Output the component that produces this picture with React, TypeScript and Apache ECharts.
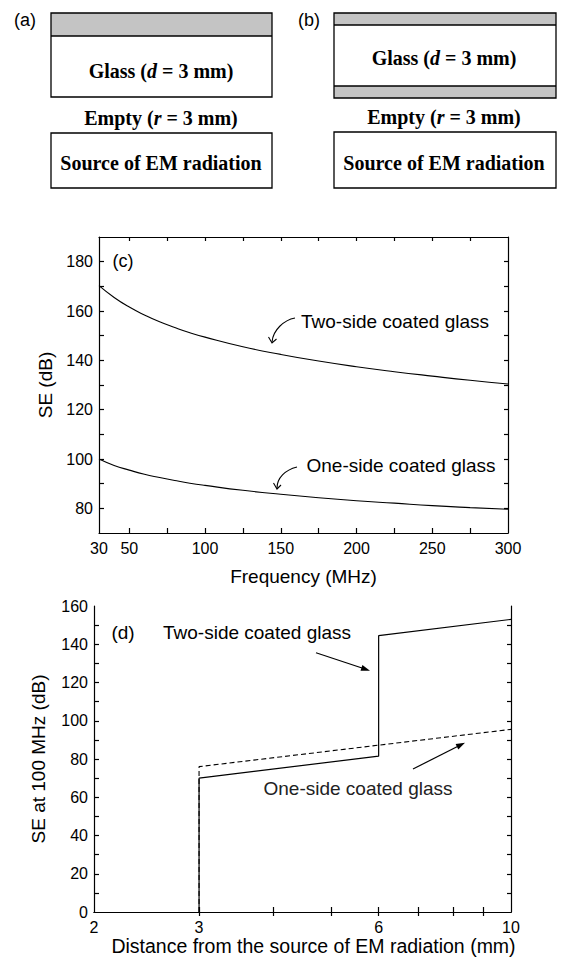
import React, { useEffect, useRef } from "react";
import * as echarts from "echarts";

// ---- (c) SE vs frequency ----
const freqMHz = [30, 40, 50, 60, 70, 80, 90, 100, 125, 150, 175, 200, 225, 250, 275, 300];
const seTwoSide = [170.3, 165.5, 161.6, 158.4, 155.6, 153.3, 151.2, 149.4, 145.5, 142.4, 139.7, 137.4, 135.4, 133.6, 131.9, 130.4];
const seOneSide = [100, 97.4, 95.5, 93.8, 92.5, 91.3, 90.2, 89.3, 87.3, 85.7, 84.3, 83.1, 82.1, 81.1, 80.3, 79.6];
const freqLabels = [30, 50, 100, 150, 200, 250, 300];
const freqTicks = [50, 75, 100, 125, 150, 175, 200, 225, 250, 275];
const seCLabels = [80, 100, 120, 140, 160, 180];
const seCTicks = [80, 90, 100, 110, 120, 130, 140, 150, 160, 170, 180];

// ---- (d) SE at 100 MHz vs distance ----
const distTwoSide = [3, 3, 6, 6, 10];
const se100TwoSide = [0, 70, 81.5, 144.5, 153];
const distOneSide = [3, 3, 10];
const se100OneSide = [0, 76, 95.5];
const distLabels = [2, 3, 6, 10];
const distTicks = [3, 4, 5, 6, 7, 8, 9];
const seDTicks = [10, 20, 30, 40, 50, 60, 70, 80, 90, 100, 110, 120, 130, 140, 150];

const SANS = "'Liberation Sans', Arial, sans-serif";
const SERIF = "'Liberation Serif', 'Times New Roman', serif";
const BLACK = "#000";
const AX = { color: BLACK, width: 1.2 };

function frameAxes(grid: number, xType: string, xMin: number, xMax: number, xTicks: number[], yMin: number, yMax: number, yTicks: number[]) {
  const xTop: any = {
    gridIndex: grid, type: xType, min: xMin, max: xMax, position: "top",
    axisLine: { show: true, lineStyle: AX },
    axisTick: { show: true, inside: true, length: 4, customValues: xTicks, lineStyle: AX },
    axisLabel: { show: false }, splitLine: { show: false },
  };
  if (xType === "log") xTop.logBase = 10;
  const yRight: any = {
    gridIndex: grid, type: "value", min: yMin, max: yMax, position: "right",
    axisLine: { show: true, lineStyle: AX },
    axisTick: { show: true, inside: true, length: 4, customValues: yTicks, lineStyle: AX },
    axisLabel: { show: false }, splitLine: { show: false },
  };
  return { xTop, yRight };
}

function buildOption(): any {
  const cFrame = frameAxes(0, "value", 30, 300, freqTicks, 70, 190, seCTicks);
  const dFrame = frameAxes(1, "log", 2, 10, distTicks, 0, 160, seDTicks);
  const labelStyle = { color: BLACK, fontSize: 16, fontFamily: SANS };
  const nameStyle = { color: BLACK, fontSize: 19, fontFamily: SANS };

  const gray = "#c4c4c4";
  const boxStroke = { stroke: BLACK, lineWidth: 1.3 };
  const richSerif = {
    b: { fontFamily: SERIF, fontWeight: "bold", fontSize: 20, fill: BLACK },
    i: { fontFamily: SERIF, fontWeight: "bold", fontStyle: "italic", fontSize: 20, fill: BLACK },
  };
  const serifText = (x: number, y: number, text: string) => ({
    type: "text", x, y,
    style: { text, rich: richSerif, align: "center", verticalAlign: "middle" },
  });
  const sansText = (x: number, y: number, text: string, size: number, fill = BLACK) => ({
    type: "text", x, y,
    style: { text, fontFamily: SANS, fontSize: size, fill, align: "center", verticalAlign: "middle" },
  });
  const lineSt = { stroke: BLACK, lineWidth: 1.1, fill: null };

  const graphic: any[] = [
    // (a)
    sansText(25, 20, "(a)", 18),
    { type: "rect", shape: { x: 51, y: 13, width: 221, height: 23 }, style: { fill: gray, stroke: null } },
    { type: "rect", shape: { x: 51, y: 13, width: 221, height: 84 }, style: { fill: null, ...boxStroke } },
    { type: "line", shape: { x1: 51, y1: 36, x2: 272, y2: 36 }, style: boxStroke },
    serifText(161, 71, "{b|Glass (}{i|d}{b| = 3 mm)}"),
    serifText(161, 118, "{b|Empty (}{i|r}{b| = 3 mm)}"),
    { type: "rect", shape: { x: 51, y: 133, width: 221, height: 55 }, style: { fill: null, ...boxStroke } },
    serifText(161, 163, "{b|Source of EM radiation}"),
    // (b)
    sansText(309, 20, "(b)", 18),
    { type: "rect", shape: { x: 334, y: 13, width: 222, height: 12 }, style: { fill: gray, stroke: null } },
    { type: "rect", shape: { x: 334, y: 86, width: 222, height: 12 }, style: { fill: gray, stroke: null } },
    { type: "rect", shape: { x: 334, y: 13, width: 222, height: 85 }, style: { fill: null, ...boxStroke } },
    { type: "line", shape: { x1: 334, y1: 25, x2: 556, y2: 25 }, style: boxStroke },
    { type: "line", shape: { x1: 334, y1: 86, x2: 556, y2: 86 }, style: boxStroke },
    serifText(444, 58, "{b|Glass (}{i|d}{b| = 3 mm)}"),
    serifText(444, 117, "{b|Empty (}{i|r}{b| = 3 mm)}"),
    { type: "rect", shape: { x: 334, y: 132, width: 222, height: 56 }, style: { fill: null, ...boxStroke } },
    serifText(444, 163, "{b|Source of EM radiation}"),
    // (c) annotations
    sansText(123, 261, "(c)", 18),
    sansText(395, 321, "Two-side coated glass", 19),
    { type: "bezierCurve", shape: { x1: 295, y1: 318, cpx1: 284, cpy1: 320, cpx2: 273, cpy2: 330, x2: 272, y2: 342 }, style: lineSt },
    { type: "polyline", shape: { points: [[268.5, 337], [272, 343], [276.5, 339]] }, style: lineSt },
    sansText(401, 465, "One-side coated glass", 19),
    { type: "bezierCurve", shape: { x1: 297, y1: 467, cpx1: 285, cpy1: 470, cpx2: 277, cpy2: 478, x2: 277, y2: 488 }, style: lineSt },
    { type: "polyline", shape: { points: [[273.5, 483], [277, 489], [281, 485]] }, style: lineSt },
    // (d) annotations
    sansText(123, 632, "(d)", 19),
    sansText(257, 632, "Two-side coated glass", 19),
    { type: "line", shape: { x1: 316, y1: 652.7, x2: 362, y2: 668 }, style: { stroke: BLACK, lineWidth: 1.2 } },
    { type: "polygon", shape: { points: [[370, 670.7], [360.5, 670.7], [362.4, 665]] }, style: { fill: BLACK } },
    sansText(358, 788, "One-side coated glass", 19, "#222"),
    { type: "line", shape: { x1: 413, y1: 769, x2: 457.5, y2: 746.5 }, style: { stroke: BLACK, lineWidth: 1.2 } },
    { type: "polygon", shape: { points: [[465, 742.7], [458.3, 749.5], [455.6, 744.1]] }, style: { fill: BLACK } },
  ];

  return {
    animation: false,
    backgroundColor: "#fff",
    grid: [
      { left: 99, top: 237, width: 409, height: 296 },
      { left: 94, top: 606, width: 417, height: 306 },
    ],
    xAxis: [
      {
        gridIndex: 0, type: "value", min: 30, max: 300, position: "bottom",
        axisLine: { show: true, lineStyle: AX },
        axisTick: { show: true, inside: true, length: 5, customValues: freqTicks, lineStyle: AX },
        axisLabel: { ...labelStyle, margin: 7, customValues: freqLabels },
        splitLine: { show: false },
        name: "Frequency (MHz)", nameLocation: "middle", nameGap: 34, nameTextStyle: nameStyle,
      },
      cFrame.xTop,
      {
        gridIndex: 1, type: "log", logBase: 10, min: 2, max: 10, position: "bottom",
        axisLine: { show: true, lineStyle: AX },
        axisTick: { show: true, inside: true, length: 5, customValues: distTicks, lineStyle: AX },
        axisLabel: { ...labelStyle, margin: 7, customValues: distLabels, formatter: (v: number) => String(Math.round(v)) },
        splitLine: { show: false },
        name: "Distance from the source of EM radiation (mm)", nameLocation: "middle", nameGap: 24,
        nameTextStyle: { ...nameStyle, fontSize: 19.5, padding: [0, 0, 0, 22] },
      },
      dFrame.xTop,
    ],
    yAxis: [
      {
        gridIndex: 0, type: "value", min: 70, max: 190, position: "left",
        axisLine: { show: true, lineStyle: AX },
        axisTick: { show: true, inside: true, length: 5, customValues: seCTicks, lineStyle: AX },
        axisLabel: { ...labelStyle, margin: 6, customValues: seCLabels },
        splitLine: { show: false },
        name: "SE (dB)", nameLocation: "middle", nameGap: 42, nameTextStyle: nameStyle,
      },
      cFrame.yRight,
      {
        gridIndex: 1, type: "value", min: 0, max: 160, interval: 20, position: "left",
        axisLine: { show: true, lineStyle: AX },
        axisTick: { show: true, inside: true, length: 5, customValues: seDTicks, lineStyle: AX },
        axisLabel: { ...labelStyle, margin: 6 },
        splitLine: { show: false },
        name: "SE at 100 MHz (dB)", nameLocation: "middle", nameGap: 46, nameTextStyle: nameStyle,
      },
      dFrame.yRight,
    ],
    series: [
      {
        type: "line", xAxisIndex: 0, yAxisIndex: 0, smooth: true, showSymbol: false,
        data: freqMHz.map((f, i) => [f, seTwoSide[i]]),
        lineStyle: { color: BLACK, width: 1.1 },
      },
      {
        type: "line", xAxisIndex: 0, yAxisIndex: 0, smooth: true, showSymbol: false,
        data: freqMHz.map((f, i) => [f, seOneSide[i]]),
        lineStyle: { color: BLACK, width: 1.1 },
      },
      {
        type: "line", xAxisIndex: 2, yAxisIndex: 2, showSymbol: false,
        data: distTwoSide.map((d, i) => [d, se100TwoSide[i]]),
        lineStyle: { color: BLACK, width: 1.2 },
      },
      {
        type: "line", xAxisIndex: 2, yAxisIndex: 2, showSymbol: false,
        data: distOneSide.map((d, i) => [d, se100OneSide[i]]),
        lineStyle: { color: BLACK, width: 1.1, type: [5, 3] },
      },
    ],
    graphic,
  };
}

export default function App() {
  const ref = useRef<HTMLDivElement>(null);
  useEffect(() => {
    document.body.style.margin = "0";
    const chart = echarts.init(ref.current!, null, { renderer: "svg" });
    chart.setOption(buildOption());
    return () => chart.dispose();
  }, []);
  return <div ref={ref} style={{ width: 561, height: 969, background: "#fff" }} />;
}
